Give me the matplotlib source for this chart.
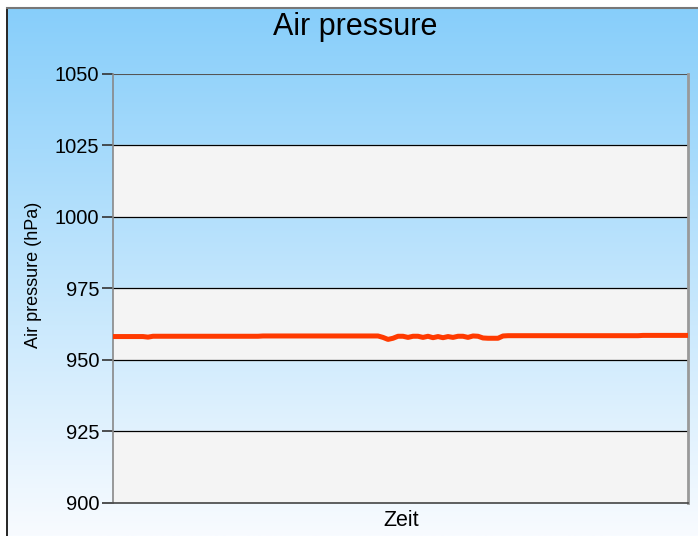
import numpy as np
import matplotlib.pyplot as plt

# --- datos (presion en hPa, muestras equiespaciadas) ---
pressure = (
    [958.2] * 7 + [958.0] + [958.3] * 22 + [958.4] * 24
    + [957.9, 957.2, 957.6, 958.3, 958.3, 957.9, 958.3, 958.3, 957.9, 958.3,
       957.8, 958.2, 957.8, 958.2, 957.9, 958.3, 958.3, 957.9, 958.4, 958.3,
       957.7, 957.6, 957.6, 957.6, 958.4]
    + [958.5] * 27 + [958.6] * 10
)
y_ticks = [900, 925, 950, 975, 1000, 1025, 1050]
gray_bands = [(900, 925), (950, 975), (1000, 1025)]

W, H = 698, 536
fig = plt.figure(figsize=(W / 100, H / 100), dpi=100)
fig.patch.set_facecolor("white")

# fondo degradado azul
bg = fig.add_axes([8 / W, 0, 1 - 8 / W, 1 - 8 / H])
top = np.array([135, 206, 250]) / 255
bot = np.array([248, 251, 255]) / 255
t = np.linspace(0, 1, 256)[:, None]
grad = top[None, :] * (1 - t) + bot[None, :] * t
bg.imshow(grad[:, None, :], aspect="auto", extent=[0, 1, 0, 1])
bg.set_axis_off()

# marco exterior
fig.add_artist(plt.Line2D([7.5 / W, 7.5 / W], [0, 1 - 7.5 / H], color="black", lw=1.2))
fig.add_artist(plt.Line2D([7.5 / W, 1], [1 - 7.5 / H, 1 - 7.5 / H], color="#777777", lw=1.5))

# area de trazado
x0, x1, y0, y1 = 113, 688, 74, 503
ax = fig.add_axes([x0 / W, (H - y1) / H, (x1 - x0) / W, (y1 - y0) / H])
ax.set_facecolor("none")
for lo, hi in gray_bands:
    ax.axhspan(lo, hi, color="#f4f4f4", zorder=0)
for v in y_ticks[1:-1]:
    ax.axhline(v, color="black", lw=0.9, zorder=1)
ax.axhline(1050, color="#555555", lw=1.5, zorder=1)

x = np.arange(len(pressure))
ax.plot(x, pressure, color="#ff3a00", lw=3.6, solid_capstyle="round", zorder=3)

ax.set_xlim(0, len(pressure) - 1)
ax.set_ylim(900, 1050)
ax.set_yticks(y_ticks)
ax.set_xticks([])
ax.tick_params(axis="y", length=8, width=1.2, color="#333333", labelsize=14.5, pad=2)
for lab in ax.get_yticklabels():
    lab.set_family("Liberation Sans")

ax.spines["left"].set_color("#888888")
ax.spines["left"].set_linewidth(1.2)
ax.spines["right"].set_color("#999999")
ax.spines["right"].set_linewidth(2)
ax.spines["top"].set_visible(False)
ax.spines["bottom"].set_color("#444444")
ax.spines["bottom"].set_linewidth(1.2)

# textos de ejes
fig.text(33.5 / W, 1 - 275 / H, "Air pressure (hPa)", rotation=90, ha="center", va="center",
         fontsize=13, family="Liberation Sans")
fig.text(401 / W, 1 - 521 / H, "Zeit", ha="center", va="center",
         fontsize=15.5, family="Liberation Sans")

fig.text(355 / W, 1 - 27 / H, "Air pressure", ha="center", va="center",
         fontsize=22, family="Liberation Sans")

plt.savefig("out.png", dpi=100)
